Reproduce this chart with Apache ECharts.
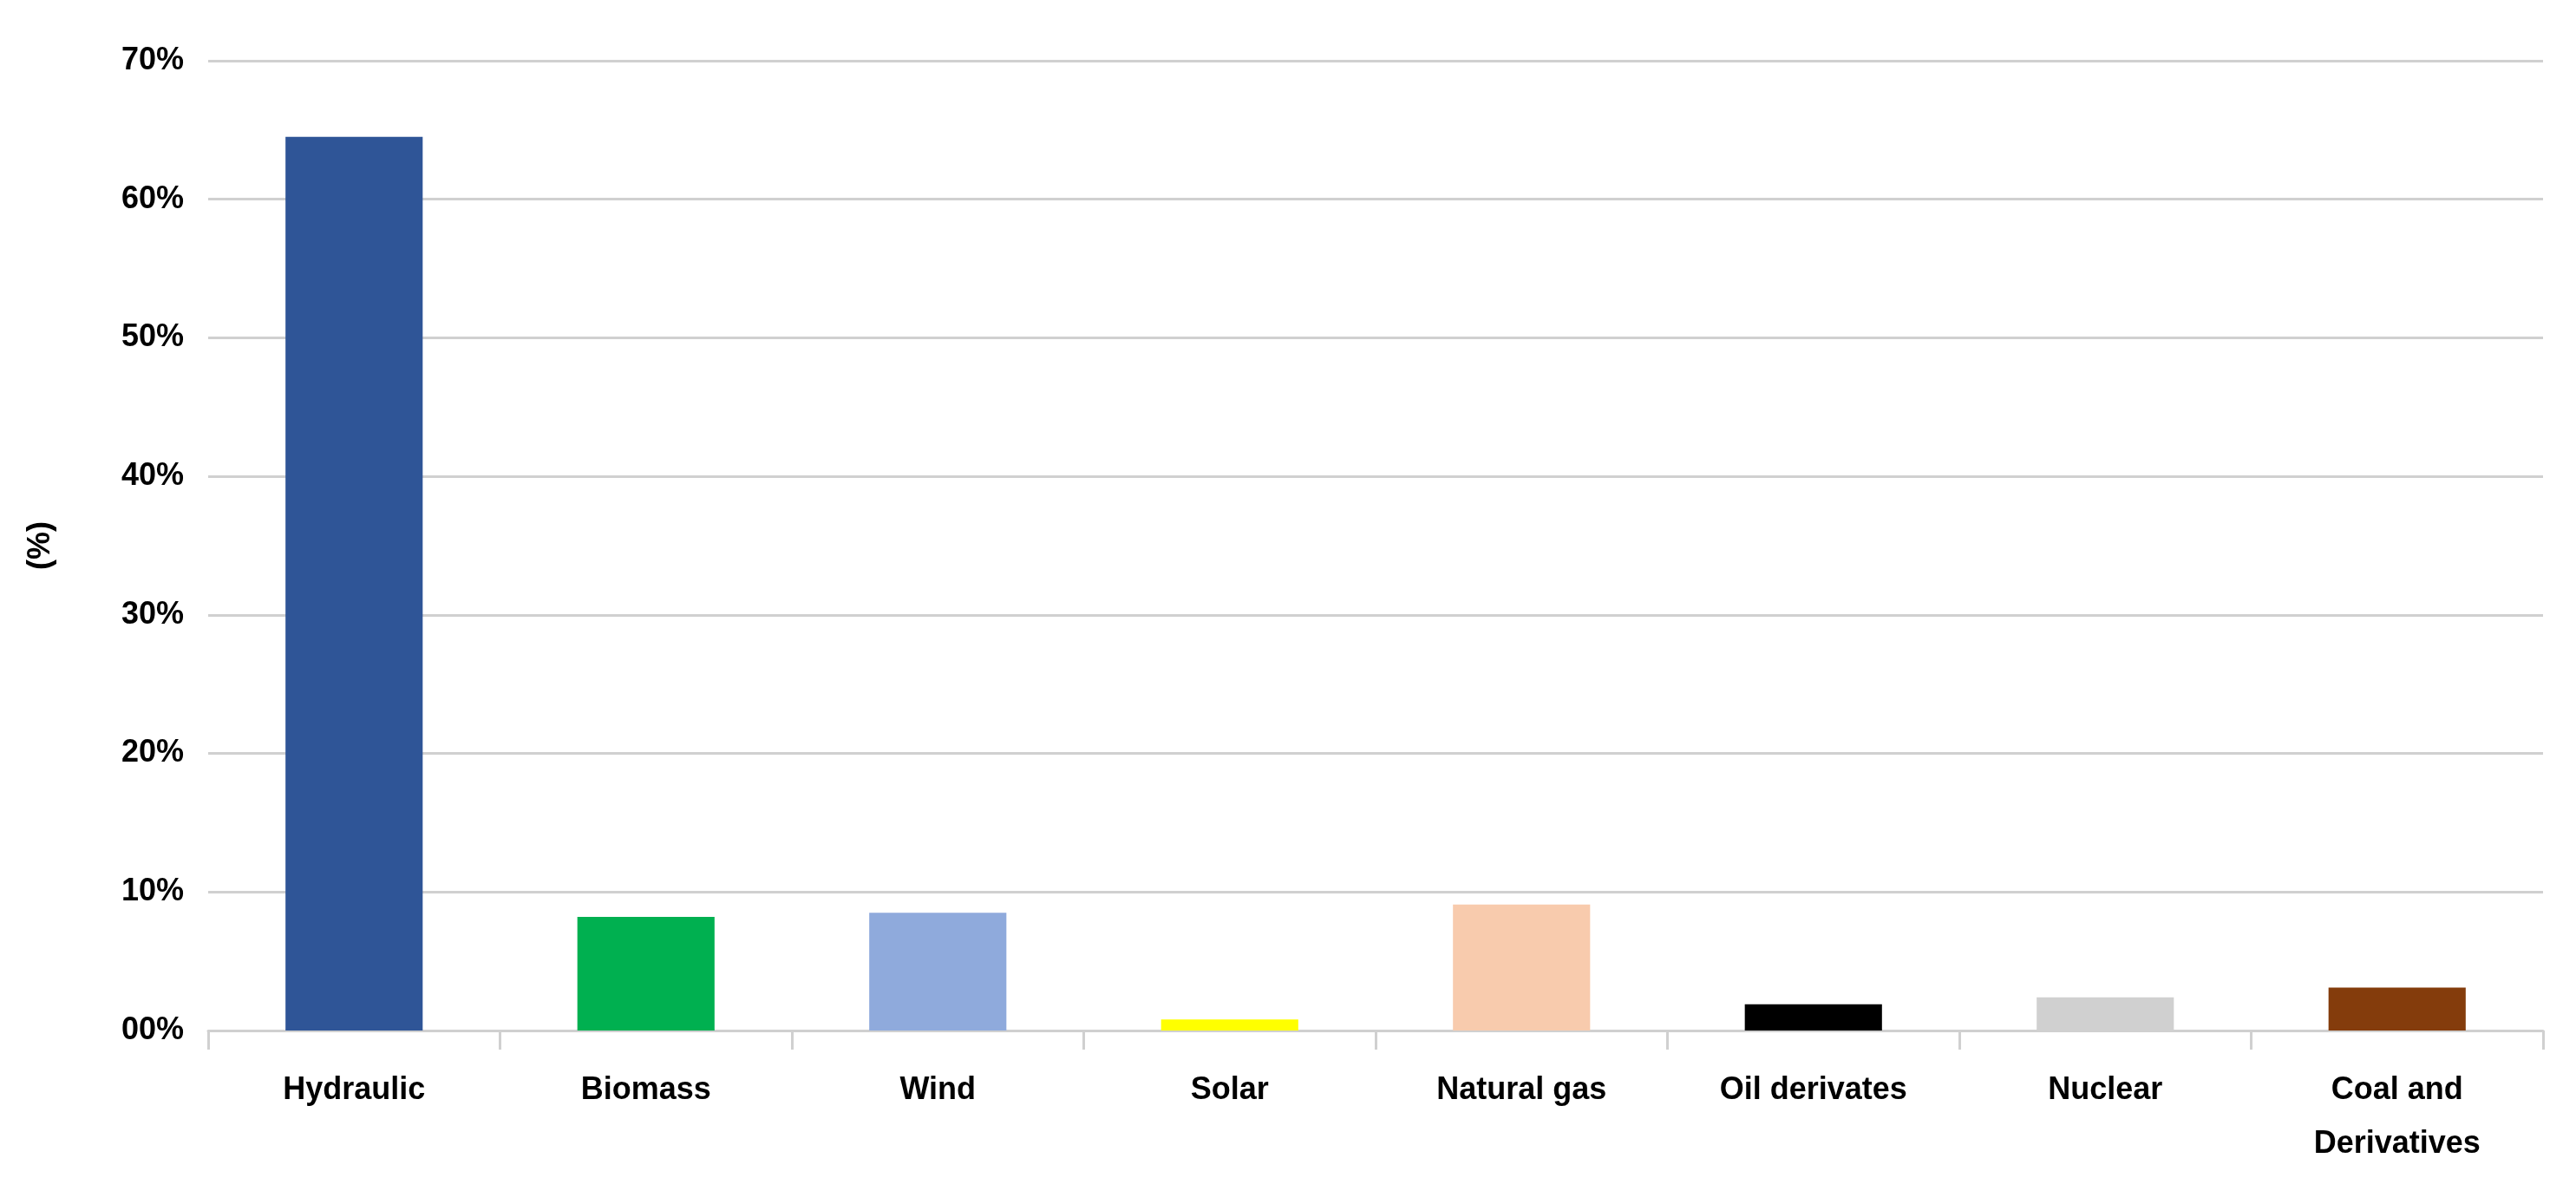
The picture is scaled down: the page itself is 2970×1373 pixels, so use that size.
<!DOCTYPE html>
<html>
<head>
<meta charset="utf-8">
<script src="https://cdn.jsdelivr.net/npm/echarts@6/dist/echarts.min.js"></script>
<style>
  html, body { margin: 0; padding: 0; background: #fff; }
  #chart { width: 2970px; height: 1373px; }
</style>
</head>
<body>
<div id="chart"></div>
<script>
// energy sources and their share (%)
const categories = ['Hydraulic', 'Biomass', 'Wind', 'Solar', 'Natural gas', 'Oil derivates', 'Nuclear', 'Coal and\nDerivatives'];
const shares = [64.5, 8.2, 8.5, 0.8, 9.1, 1.9, 2.4, 3.1];
const barColors = ['#2F5597', '#00B050', '#8FAADC', '#FFFF00', '#F8CBAD', '#000000', '#D0D0D0', '#843C0C'];
const yTicks = [0, 10, 20, 30, 40, 50, 60, 70];

const font = '"Liberation Sans Narrow", "Liberation Sans", sans-serif';

const chart = echarts.init(document.getElementById('chart'));
chart.setOption({
  animation: false,
  grid: { left: 240, right: 38, top: 70, bottom: 185 },
  xAxis: {
    type: 'category',
    data: categories,
    axisLine: { lineStyle: { color: '#D0D0D0', width: 3 } },
    axisTick: { show: true, length: 22, lineStyle: { color: '#D0D0D0', width: 3 } },
    axisLabel: {
      color: '#000', fontFamily: font, fontWeight: 'bold', fontSize: 36,
      margin: 38, lineHeight: 62
    }
  },
  yAxis: {
    type: 'value',
    min: 0, max: 70, interval: 10,
    name: '(%)',
    nameLocation: 'middle',
    nameGap: 175,
    nameRotate: 90,
    nameTextStyle: { color: '#000', fontFamily: font, fontWeight: 'bold', fontSize: 36 },
    axisLine: { show: false },
    axisTick: { show: false },
    axisLabel: {
      color: '#000', fontFamily: font, fontWeight: 'bold', fontSize: 36, margin: 28,
      formatter: v => (yTicks.indexOf(v) >= 0 ? (v === 0 ? '00' : v) + '%' : '')
    },
    splitLine: { lineStyle: { color: '#D0D0D0', width: 3 } }
  },
  series: [{
    type: 'bar',
    barWidth: '47%',
    data: shares.map((v, i) => ({ value: v, itemStyle: { color: barColors[i] } }))
  }]
});
</script>
</body>
</html>
